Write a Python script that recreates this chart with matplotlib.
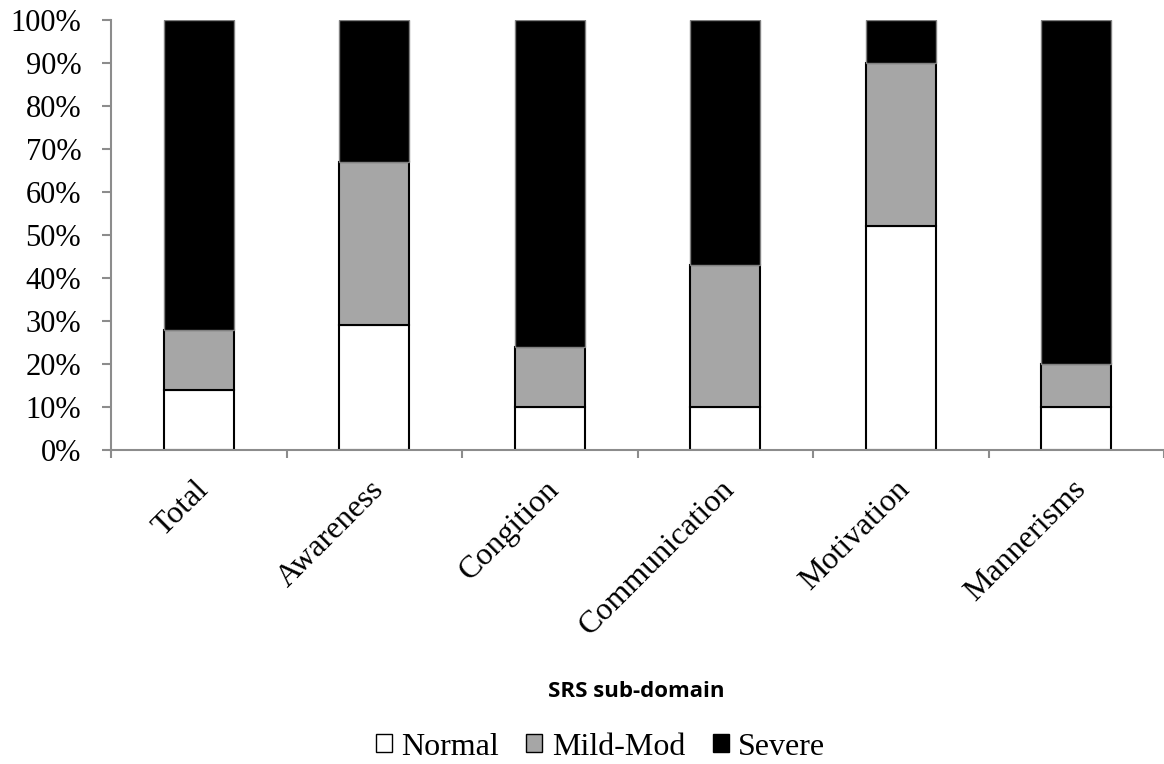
import matplotlib.pyplot as plt
import numpy as np
from matplotlib.ticker import FuncFormatter, MultipleLocator

categories = ["Total", "Awareness", "Congition", "Communication", "Motivation", "Mannerisms"]
normal = [14, 29, 10, 10, 52, 10]
mild_mod = [14, 38, 14, 33, 38, 10]
severe = [72, 33, 76, 57, 10, 80]

serif = ["Liberation Serif", "DejaVu Serif"]
plt.rcParams["font.family"] = serif

fig = plt.figure(figsize=(11.64, 7.64), dpi=100)
ax = fig.add_axes([0.0954, 0.411, 0.9046, 0.563])

x = np.arange(len(categories))
w = 0.40
normal = np.array(normal)
mild_mod = np.array(mild_mod)
severe = np.array(severe)

ax.bar(x, normal, w, color="white", edgecolor="black", linewidth=1.5, label="Normal")
ax.bar(x, mild_mod, w, bottom=normal, color="#a6a6a6", edgecolor="black", linewidth=1.5, label="Mild-Mod")
ax.bar(x, severe, w, bottom=normal + mild_mod, color="black", edgecolor="#808080", linewidth=1.0, label="Severe")

ax.set_xlim(-0.5, len(categories) - 0.5)
ax.set_ylim(0, 100)
ax.yaxis.set_major_locator(MultipleLocator(10))
ax.yaxis.set_major_formatter(FuncFormatter(lambda v, p: "%d%%" % v))

for s in ["top", "right"]:
    ax.spines[s].set_visible(False)
for s in ["left", "bottom"]:
    ax.spines[s].set_color("#8c8c8c")
    ax.spines[s].set_linewidth(1.5)

ax.set_xticks(x - 0.03)
ax.set_xticklabels(categories, rotation=45, ha="right", rotation_mode="anchor", fontsize=23)
ax.set_xticks(np.arange(len(categories) + 1) - 0.5, minor=True)
ax.tick_params(axis="x", which="major", length=0, pad=18)
ax.tick_params(axis="x", which="minor", length=6, width=1.5, color="#8c8c8c", direction="out")
ax.tick_params(axis="y", length=6.5, width=1.5, color="#8c8c8c", labelsize=22, pad=15)

fig.text(0.547, 0.095, "SRS sub-domain", fontsize=16, fontweight="bold",
         family=["Open Sans", "DejaVu Sans"], ha="center", va="center")

leg = fig.legend(loc="center", bbox_to_anchor=(0.516, 0.022), ncol=3, frameon=False,
                 fontsize=23, handlelength=0.5, handleheight=0.5, handletextpad=0.3,
                 columnspacing=0.85)
for h in leg.legend_handles:
    h.set_edgecolor("black")
    h.set_linewidth(1.0)

fig.savefig("out.png", dpi=100)
